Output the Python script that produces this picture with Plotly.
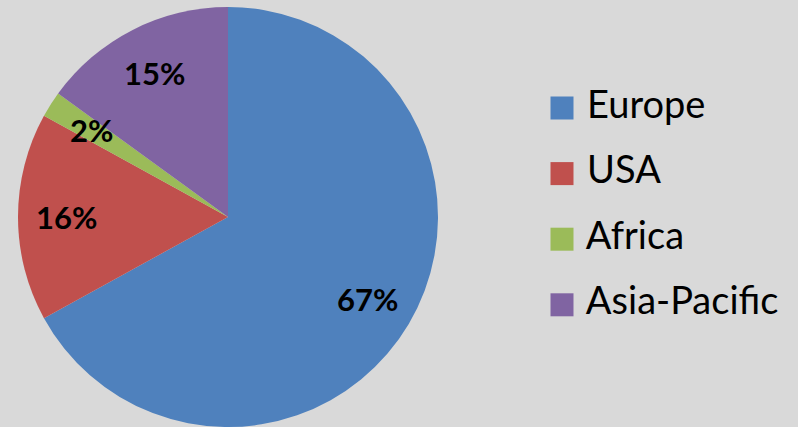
import math
import plotly.graph_objects as go

categories = ["Europe", "USA", "Africa", "Asia-Pacific"]
values = [67, 16, 2, 15]
colors = ["#4f81bd", "#c0504d", "#9bbb59", "#8064a2"]

W, H = 798, 427
BG = "#d9d9d9"
FONT = "Lato"

# pie geometry (pixels)
pie_left, pie_right, pie_top, pie_bottom = 18, 438, 7, 427
cx = (pie_left + pie_right) / 2
cy = (pie_top + pie_bottom) / 2
R = (pie_right - pie_left) / 2

fig = go.Figure()
fig.add_trace(go.Pie(
    labels=categories, values=values, sort=False, direction="clockwise",
    rotation=0, marker=dict(colors=colors, line=dict(width=0)),
    textinfo="none", hoverinfo="label+percent", showlegend=False,
    domain=dict(x=[pie_left / W, pie_right / W], y=[1 - pie_bottom / H, 1 - pie_top / H]),
))

# data labels placed along each slice's mid-angle
total = sum(values)
cum = 0
annotations = []
for v in values:
    mid = (cum + v / 2) / total * 2 * math.pi
    cum += v
    r = 0.77 * R
    px = cx + r * math.sin(mid)
    py = cy - r * math.cos(mid)
    annotations.append(dict(
        x=px / W, y=1 - py / H, xref="paper", yref="paper",
        text=f"<b>{round(v / total * 100)}%</b>", showarrow=False,
        font=dict(family=FONT, size=31, color="black"),
        xanchor="center", yanchor="middle",
    ))

# legend drawn as a scatter of square markers
leg_x_px = 562
leg_top_item, leg_step = 108, 65.6
y_top = leg_top_item - leg_step / 2
y_bot = y_top + leg_step * len(categories)
fig.add_trace(go.Scatter(
    x=[0] * len(categories), y=categories, mode="markers+text",
    marker=dict(symbol="square", size=23, color=colors, line=dict(width=0)),
    text=[" " + c for c in categories], textposition="middle right",
    textfont=dict(family=FONT, size=38, color="black"),
    cliponaxis=False, showlegend=False, hoverinfo="skip",
    xaxis="x", yaxis="y",
))

fig.update_layout(
    width=W, height=H, autosize=False,
    margin=dict(l=0, r=0, t=0, b=0),
    paper_bgcolor=BG, plot_bgcolor=BG,
    annotations=annotations,
    xaxis=dict(domain=[leg_x_px / W, 1], range=[0, 1], visible=False, fixedrange=True),
    yaxis=dict(domain=[1 - y_bot / H, 1 - y_top / H], type="category",
               categoryorder="array", categoryarray=categories,
               range=[len(categories) - 0.5, -0.5], visible=False, fixedrange=True),
    showlegend=False,
)

fig.write_html(
    "out.html",
    config={"displayModeBar": False},
    post_script="document.body.style.margin='0';document.body.style.background='%s';" % BG,
)
